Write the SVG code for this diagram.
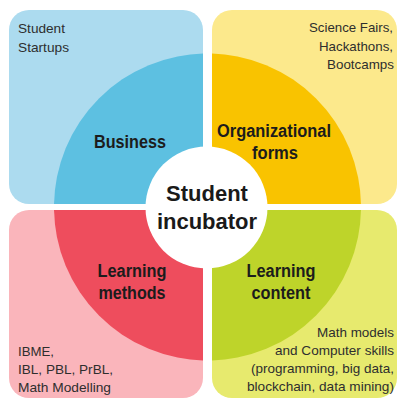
<svg xmlns="http://www.w3.org/2000/svg" width="399" height="400" viewBox="0 0 399 400">
  <style>
    .lbl { font-family: "Liberation Sans", Arial, sans-serif; font-weight: bold; font-size: 18px; fill: #1c1c1c; text-anchor: middle; }
    .note { font-family: "Liberation Sans", Arial, sans-serif; font-size: 13.4px; fill: #2e2e2e; }
    .core { font-family: "Liberation Sans", Arial, sans-serif; font-weight: bold; font-size: 22px; fill: #1a1a1a; text-anchor: middle; }
  </style>
  <defs>
    <clipPath id="clipTL"><rect x="9" y="10" width="194" height="194" rx="20"/></clipPath>
    <clipPath id="clipTR"><rect x="212" y="10" width="185" height="194" rx="20"/></clipPath>
    <clipPath id="clipBL"><rect x="9" y="210" width="194" height="188" rx="20"/></clipPath>
    <clipPath id="clipBR"><rect x="212" y="210" width="185" height="188" rx="20"/></clipPath>
  </defs>
  <rect width="399" height="400" fill="#ffffff"/>

  <g id="business">
    <g clip-path="url(#clipTL)">
      <rect x="9" y="10" width="194" height="194" fill="#acdbef"/>
      <circle cx="207.5" cy="207" r="153.5" fill="#5dc0e1"/>
    </g>
    <text class="note" x="18" y="33" textLength="47" lengthAdjust="spacingAndGlyphs">Student</text>
    <text class="note" x="18" y="52" textLength="51" lengthAdjust="spacingAndGlyphs">Startups</text>
    <text class="lbl" x="130" y="148" textLength="72" lengthAdjust="spacingAndGlyphs">Business</text>
  </g>

  <g id="organizational-forms">
    <g clip-path="url(#clipTR)">
      <rect x="212" y="10" width="185" height="194" fill="#fce98c"/>
      <circle cx="207.5" cy="207" r="153.5" fill="#f9c300"/>
    </g>
    <!-- right-aligned block, placed by left edge -->
    <text class="note" x="309" y="32" textLength="84" lengthAdjust="spacingAndGlyphs">Science Fairs,</text>
    <text class="note" x="319" y="51" textLength="74" lengthAdjust="spacingAndGlyphs">Hackathons,</text>
    <text class="note" x="327" y="69" textLength="67" lengthAdjust="spacingAndGlyphs">Bootcamps</text>
    <text class="lbl" x="274" y="137" textLength="114" lengthAdjust="spacingAndGlyphs">Organizational</text>
    <text class="lbl" x="275" y="159" textLength="46" lengthAdjust="spacingAndGlyphs">forms</text>
  </g>

  <g id="learning-methods">
    <g clip-path="url(#clipBL)">
      <rect x="9" y="210" width="194" height="188" fill="#fab5bb"/>
      <circle cx="207.5" cy="207" r="153.5" fill="#ee4d5d"/>
    </g>
    <text class="note" x="18" y="356" textLength="36" lengthAdjust="spacingAndGlyphs">IBME,</text>
    <text class="note" x="18" y="374" textLength="95" lengthAdjust="spacingAndGlyphs">IBL, PBL, PrBL,</text>
    <text class="note" x="18" y="392" textLength="93" lengthAdjust="spacingAndGlyphs">Math Modelling</text>
    <text class="lbl" x="132" y="277" textLength="69" lengthAdjust="spacingAndGlyphs">Learning</text>
    <text class="lbl" x="132" y="299" textLength="67" lengthAdjust="spacingAndGlyphs">methods</text>
  </g>

  <g id="learning-content">
    <g clip-path="url(#clipBR)">
      <rect x="212" y="210" width="185" height="188" fill="#e7ea6e"/>
      <circle cx="207.5" cy="207" r="153.5" fill="#bed42a"/>
    </g>
    <!-- right-aligned block, placed by left edge -->
    <text class="note" x="317" y="337" textLength="77" lengthAdjust="spacingAndGlyphs">Math models</text>
    <text class="note" x="275" y="355" textLength="119" lengthAdjust="spacingAndGlyphs">and Computer skills</text>
    <text class="note" x="251" y="373" textLength="143" lengthAdjust="spacingAndGlyphs">(programming, big data,</text>
    <text class="note" x="247" y="391" textLength="147" lengthAdjust="spacingAndGlyphs">blockchain, data mining)</text>
    <text class="lbl" x="281" y="277" textLength="69" lengthAdjust="spacingAndGlyphs">Learning</text>
    <text class="lbl" x="281" y="299" textLength="59" lengthAdjust="spacingAndGlyphs">content</text>
  </g>

  <g id="student-incubator">
    <circle cx="206.5" cy="207.5" r="61" fill="#ffffff"/>
    <text class="core" x="207" y="201">Student</text>
    <text class="core" x="207" y="229">incubator</text>
  </g>
</svg>
